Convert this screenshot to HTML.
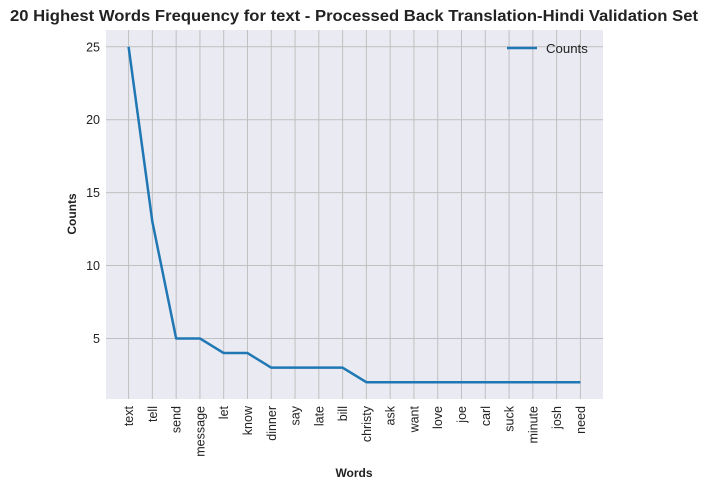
<!DOCTYPE html>
<html><head><meta charset="utf-8"><style>
body{margin:0;background:#fff;}
svg{display:block;font-family:"Liberation Sans",Arial,sans-serif;}
</style></head><body>
<svg id="chart" width="708" height="490">
<text x="354" y="21" text-anchor="middle" font-size="15.5" font-weight="bold" fill="#222" textLength="688" lengthAdjust="spacingAndGlyphs">20 Highest Words Frequency for text - Processed Back Translation-Hindi Validation Set</text>
<rect x="106" y="30" width="497" height="369" fill="#eaeaf2"/>
<g id="grid"></g>
<g id="ticks"></g>
<polyline id="line" fill="none" stroke="#1f77b4" stroke-width="2.5" stroke-linejoin="round"/>
<text x="76" y="214" text-anchor="middle" font-size="12" font-weight="bold" fill="#222" transform="rotate(-90 76 214)">Counts</text>
<text x="354" y="477" text-anchor="middle" font-size="12" font-weight="bold" fill="#222">Words</text>
<g>
<line x1="507" y1="48" x2="537" y2="48" stroke="#1f77b4" stroke-width="2.5"/>
<text x="546" y="53" font-size="13.2" fill="#222">Counts</text>
</g>
</svg>
<script>
const words=["text","tell","send","message","let","know","dinner","say","late","bill","christy","ask","want","love","joe","carl","suck","minute","josh","need"];
const counts=[25,13,5,5,4,4,3,3,3,3,2,2,2,2,2,2,2,2,2,2];
const yTicks=[5,10,15,20,25];
const L=106,R=603,T=30,B=399;
const xmin=-0.95,xmax=words.length-1+0.95,ymin=0.85,ymax=26.15;
const xs=i=>L+(i-xmin)/(xmax-xmin)*(R-L);
const ys=v=>B-(v-ymin)/(ymax-ymin)*(B-T);
const NS="http://www.w3.org/2000/svg";
const grid=document.getElementById('grid'),ticks=document.getElementById('ticks');
function mk(tag,attrs,parent){const e=document.createElementNS(NS,tag);for(const k in attrs)e.setAttribute(k,attrs[k]);parent.appendChild(e);return e;}
words.forEach((w,i)=>{
  const g=mk('line',{x1:xs(i),x2:xs(i),y1:T,y2:B,stroke:'#c0c0c0','stroke-width':1},grid);
  
  
  const x=xs(i)+4.5,y=B+7;
  const t=mk('text',{x:x,y:y,'text-anchor':'end','font-size':12.5,fill:'#222',transform:`rotate(-90 ${x} ${y})`},ticks);
  t.textContent=w;
  
  
});
yTicks.forEach(v=>{
  const g=mk('line',{x1:L,x2:R,y1:ys(v),y2:ys(v),stroke:'#c0c0c0','stroke-width':1},grid);
  
  
  const t=mk('text',{x:L-6,y:ys(v)+4.5,'text-anchor':'end','font-size':12.5,fill:'#222'},ticks);
  t.textContent=v;
  
  
});
document.getElementById('line').setAttribute('points',counts.map((c,i)=>xs(i)+','+ys(c)).join(' '));
</script>
</body></html>
